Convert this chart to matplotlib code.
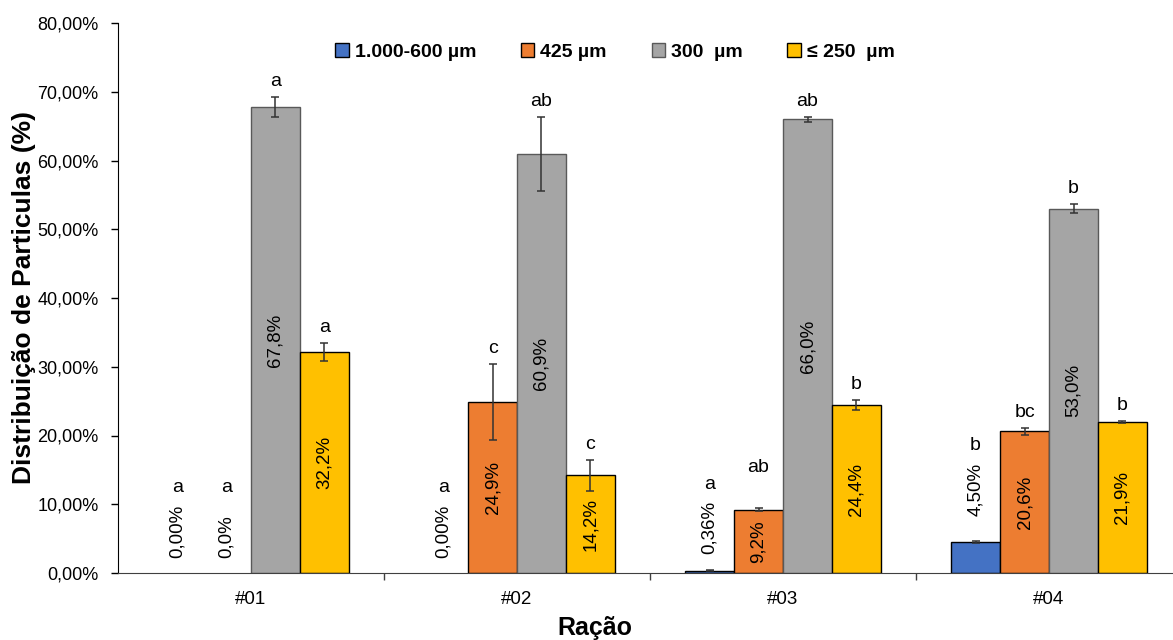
import numpy as np
import matplotlib
matplotlib.use('Agg')
import matplotlib.pyplot as plt
from matplotlib.patches import Patch
from matplotlib.ticker import FuncFormatter

plt.rcParams['font.family'] = ['Liberation Sans', 'DejaVu Sans']

# data (%)
racoes = ['#01', '#02', '#03', '#04']
series = ['1.000-600 µm', '425 µm', '300  µm', '≤ 250  µm']

v_1000 = [0.0, 0.0, 0.36, 4.50]
v_425 = [0.0, 24.9, 9.2, 20.6]
v_300 = [67.8, 60.9, 66.0, 53.0]
v_250 = [32.2, 14.2, 24.4, 21.9]

e_1000 = [0.0, 0.0, 0.05, 0.15]
e_425 = [0.0, 5.5, 0.2, 0.5]
e_300 = [1.4, 5.4, 0.35, 0.7]
e_250 = [1.3, 2.2, 0.7, 0.15]

l_1000 = ['a', 'a', 'a', 'b']
l_425 = ['a', 'c', 'ab', 'bc']
l_300 = ['a', 'ab', 'ab', 'b']
l_250 = ['a', 'c', 'b', 'b']

values = [v_1000, v_425, v_300, v_250]
errors = [e_1000, e_425, e_300, e_250]
letters = [l_1000, l_425, l_300, l_250]
colors = ['#4472C4', '#ED7D31', '#A5A5A5', '#FFC000']
edges = ['black', 'black', '#595959', 'black']
decimals = [2, 1, 1, 1]

fig = plt.figure(figsize=(11.73, 6.4), dpi=100)
ax = fig.add_axes([118/1173, 67/640, 1 - 118/1173, 550/640])

x = np.arange(len(racoes))
w = 0.184

for i in range(4):
    xs = x + (i - 1.5) * w
    vals = np.array(values[i])
    errs = np.array(errors[i])
    lws = [1 if v > 0 else 0 for v in vals]
    ax.bar(xs, vals, w, color=colors[i], edgecolor=edges[i], linewidth=lws, zorder=2)
    keep = errs > 0
    ax.errorbar(xs[keep], vals[keep], yerr=errs[keep], fmt='none', ecolor='#333333',
                elinewidth=1.1, capsize=3.2, capthick=1.1, zorder=3)
    for j in range(4):
        v = vals[j]
        txt = f'{v:.{decimals[i]}f}%'.replace('.', ',')
        if i == 0 or v < 1:
            # small bars: label above the bar
            ax.annotate(txt, (xs[j], v), xytext=(0, 11 + 1.8 * v), textcoords='offset points',
                        rotation=90, ha='center', va='bottom', fontsize=13.5)
            ax.annotate(letters[i][j], (xs[j], v), xytext=(0, 58 + 1.8 * v),
                        textcoords='offset points', ha='center', va='baseline', fontsize=14)
        else:
            ax.text(xs[j], v / 2, txt, rotation=90, ha='center', va='center', fontsize=13.5)
            top = v + errs[j]
            # keep letters of short bars level with the neighbouring small-bar letters
            off = 8 if v > 10 else 26
            ax.annotate(letters[i][j], (xs[j], top), xytext=(0, off),
                        textcoords='offset points', ha='center', va='baseline', fontsize=14)

ax.set_ylim(0, 80)
ax.set_xlim(-0.5, 3.466)
ax.set_yticks(np.arange(0, 81, 10))
ax.yaxis.set_major_formatter(FuncFormatter(lambda v, p: f'{v:.2f}%'.replace('.', ',')))
ax.tick_params(axis='y', length=5, width=1, labelsize=13, pad=9)

ax.set_xticks(x)
ax.set_xticklabels(racoes)
ax.set_xticks([0.5, 1.5, 2.5], minor=True)
ax.tick_params(axis='x', which='major', length=0, labelsize=13.5, pad=13)
ax.tick_params(axis='x', which='minor', length=5, width=1, color='#404040')

ax.spines['top'].set_visible(False)
ax.spines['right'].set_visible(False)
ax.spines['bottom'].set_color('#404040')

ax.set_ylabel('Distribuição de Particulas (%)', fontsize=19, fontweight='bold')
ax.yaxis.set_label_coords(-0.078, 0.5)
ax.set_xlabel('Ração', fontsize=18, fontweight='bold')
ax.xaxis.set_label_coords((595 - 118) / 1055, -0.078)

handles = [Patch(facecolor=c, edgecolor=e, linewidth=1) for c, e in zip(colors, edges)]
fig.legend(handles, series, loc='center', bbox_to_anchor=(615/1173, 1 - 52/640), ncol=4,
           frameon=False, prop={'weight': 'bold', 'size': 14}, handlelength=0.7,
           handleheight=0.7, handletextpad=0.3, columnspacing=2.3)

fig.savefig('out.png', dpi=100)
